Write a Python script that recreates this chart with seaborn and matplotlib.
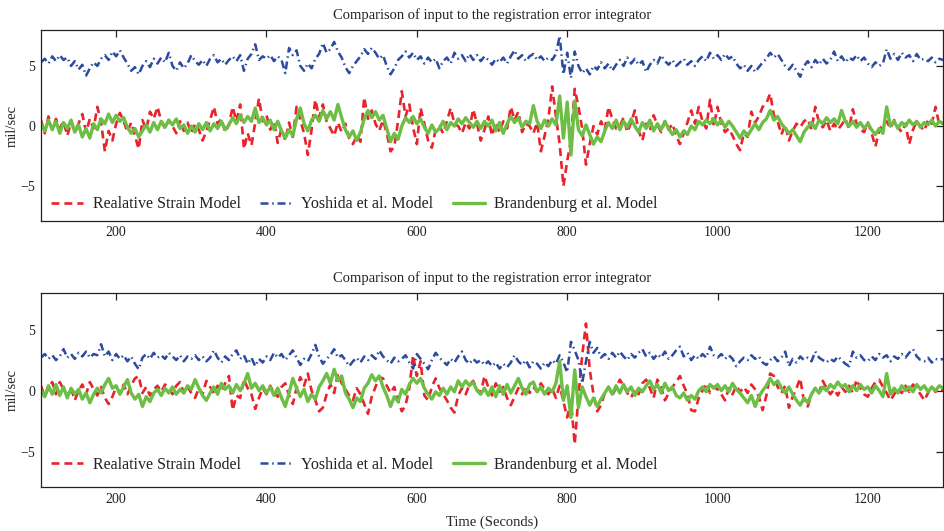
import numpy as np
import pandas as pd
import matplotlib
matplotlib.use("Agg")
import matplotlib.pyplot as plt
import seaborn as sns

# ---------------- data (5 s spacing) ----------------
time_s = list(range(100, 1305, 5))

top_strain = [
    0.5, -0.6, 0.8, -0.3, 0.6, -0.2, 0.4, -0.8, 0.3, -0.4, 0.2, 1.0, -0.5, 0.6, -0.2, 1.6, 0.3, -2.1, -0.4, -1.2,
    0.2, 1.1, 0.4, -0.5, 0.3, -0.8, -1.9, 0.5, -0.3, 1.2, 0.6, 1.6, 0.4, -0.2, 0.5, 0.0, -0.6, 0.4, -0.4, 0.3,
    -0.6, 0.2, -0.3, -1.2, -0.4, 0.5, 1.6, 0.2, 0.6, -0.5, 0.1, 1.6, 0.4, 1.8, -1.9, -0.6, -1.6, 0.3, 2.3, 0.4,
    0.9, -0.3, 0.4, -1.4, -0.2, -1.2, 0.3, -0.9, 1.6, 0.5, -0.6, -2.4, -0.3, 2.2, 0.7, 1.8, 0.4, -0.2, -0.8, 0.3,
    -0.5, 0.2, -1.0, -1.5, -0.8, -1.3, 2.4, 0.6, 1.3, 0.2, -0.4, 0.5, -0.6, -2.1, -1.7, 0.4, 2.9, 0.8, 1.8, -0.1,
    -1.5, 1.5, 0.2, -1.2, -1.8, -0.3, 0.0, -0.6, 0.4, 1.5, 0.2, 0.0, -0.6, 0.3, -0.2, 1.4, 0.2, -1.2, -0.3, 0.8,
    -0.8, 0.3, -0.5, 0.4, -0.2, 1.6, 0.5, 1.2, -0.5, 0.2, 0.0, -0.6, 0.3, -2.1, -0.8, 0.6, 3.3, 0.8, -1.5, -5.0,
    -2.9, -1.2, 3.1, 1.6, -0.2, -3.2, -1.5, 0.0, -0.7, 0.4, -0.3, 1.6, 0.6, -0.2, 0.0, 0.7, -0.5, 0.3, 1.3, -0.4,
    -1.2, 0.2, -0.4, 0.9, 0.1, -0.5, 0.4, -0.3, 0.2, -0.8, -1.5, -0.6, 0.3, 1.3, 0.2, 1.6, 0.4, -0.2, 2.2, 0.0,
    1.6, 0.2, -0.5, -0.2, -0.8, -1.5, -2.0, -0.6, -0.9, 1.2, 0.3, 0.8, 1.6, 1.9, 2.7, 0.9, 0.4, -0.7, 0.1, -1.2,
    -0.4, 0.2, -0.1, 0.4, 0.6, -0.3, 1.6, 0.3, -0.1, 0.5, -0.4, 0.2, -0.3, 0.1, 0.6, -0.2, 1.4, 0.2, -0.3, -0.5,
    0.3, -0.6, -1.7, -0.4, 0.2, 0.4, -0.2, 0.5, -0.1, -0.5, 0.2, -1.5, -0.3, 0.4, 0.0, -0.4, 0.5, 0.2, 1.6, 0.1,
    0.3,
]
top_yoshida = [
    5.3, 5.6, 5.2, 5.8, 5.4, 5.9, 5.5, 5.7, 5.0, 5.4, 4.7, 5.1, 4.2, 4.8, 5.3, 5.0, 5.6, 5.9, 5.5, 6.2,
    5.8, 6.3, 5.7, 5.2, 4.6, 4.9, 4.3, 5.0, 5.4, 4.9, 5.6, 5.2, 5.7, 5.3, 6.1, 5.0, 4.6, 5.3, 4.8, 5.2,
    5.9, 5.4, 5.1, 5.5, 5.0, 5.6, 5.9, 5.3, 5.6, 5.1, 5.5, 5.8, 5.4, 5.9, 4.6, 5.6, 6.0, 6.8, 5.5, 5.8,
    5.6, 5.9, 5.4, 5.8, 5.5, 4.4, 6.5, 5.9, 6.3, 5.0, 4.6, 5.2, 4.8, 5.6, 6.0, 6.9, 6.1, 6.4, 7.0, 6.2,
    5.7, 4.9, 4.4, 5.0, 5.4, 5.8, 6.4, 6.0, 6.5, 6.1, 5.6, 5.9, 5.0, 4.3, 4.8, 5.5, 5.8, 6.2, 5.7, 6.1,
    5.5, 5.8, 5.2, 5.7, 5.3, 5.6, 4.8, 5.4, 5.7, 5.2, 6.1, 5.6, 5.9, 5.4, 6.0, 5.5, 5.9, 5.4, 5.8, 5.5,
    5.1, 5.6, 5.3, 5.7, 5.2, 5.8, 6.3, 5.6, 5.9, 5.4, 5.8, 6.0, 5.5, 5.8, 5.4, 5.7, 5.5, 6.0, 7.5, 4.3,
    6.1, 4.0, 6.2, 5.0, 4.4, 4.8, 4.3, 5.0, 4.7, 5.3, 4.8, 5.2, 4.6, 5.1, 5.5, 5.0, 5.7, 5.2, 5.6, 5.1,
    5.4, 4.5, 5.1, 5.5, 5.2, 5.9, 5.4, 5.1, 5.5, 5.0, 5.3, 5.6, 5.1, 5.4, 5.0, 5.5, 5.8, 5.4, 6.1, 5.6,
    5.9, 5.5, 6.0, 5.6, 5.8, 5.2, 4.8, 5.1, 4.6, 5.0, 4.5, 4.9, 5.3, 5.6, 6.1, 5.7, 6.0, 5.5, 5.0, 4.7,
    5.1, 4.6, 4.1, 5.0, 5.4, 4.9, 5.5, 5.1, 5.6, 5.2, 5.5, 6.2, 5.4, 5.8, 5.3, 5.7, 5.5, 5.9, 5.4, 5.7,
    5.2, 4.9, 5.3, 5.0, 5.2, 6.4, 5.6, 6.0, 5.5, 6.1, 5.7, 5.9, 5.4, 6.0, 5.5, 5.6, 5.4, 5.7, 5.3, 5.6,
    5.5,
]
top_brandenburg = [
    0.2, -0.4, 0.5, -0.3, 0.4, -0.6, 0.3, -0.2, 0.5, -0.5, 0.1, -0.9, -0.2, -1.0, 0.2, -0.3, 0.6, 0.2, 1.0, 0.3,
    0.9, 0.4, 0.7, -0.1, -0.6, -0.2, -0.9, -0.4, 0.1, -0.5, 0.3, -0.3, 0.4, -0.1, 0.5, 0.1, 0.6, -0.2, 0.1, -0.6,
    0.0, -0.5, 0.2, -0.3, 0.3, -0.4, 0.2, -0.2, 0.4, -0.3, 0.1, 0.7, 0.2, 0.9, 0.3, 0.8, 0.4, 1.5, 0.3, 0.7,
    0.1, 0.5, -0.3, 0.4, -0.4, -1.0, -0.3, -0.8, 0.6, 1.5, 0.2, -0.4, 0.5, 0.9, 0.4, 1.3, 0.6, 1.2, 0.5, 1.8,
    0.7, -0.3, -0.9, -0.4, -1.2, -0.5, 0.6, 1.3, 0.7, 1.2, 0.5, 0.9, -0.2, -1.3, -0.6, -1.1, 0.0, 0.7, 0.3, 0.8,
    0.2, 0.6, -0.1, -0.6, 0.1, -0.5, -0.2, 0.4, -0.3, 0.3, 0.0, 0.6, 0.2, 0.7, 0.3, -0.1, 0.4, -0.2, 0.4, 0.0,
    0.5, -0.4, 0.3, -0.6, 0.2, 0.8, 0.3, 0.7, -0.1, 0.4, 0.2, 1.7, 0.4, -0.2, 0.5, 0.0, 0.6, 0.1, 2.5, -1.0,
    2.0, -2.4, 2.1, -0.3, -0.8, 0.1, -0.7, -1.5, -0.9, -1.3, -0.4, 0.3, -0.2, 0.5, -0.3, 0.4, -0.1, 0.6, 0.0, -0.5,
    0.3, -0.2, 0.5, -0.4, 0.2, -0.3, 0.4, -0.2, -0.7, -0.3, -0.9, -0.4, -0.7, 0.0, -0.3, 0.4, 0.1, 0.5, 0.2, 0.6,
    0.1, 0.5, -0.1, 0.4, 0.0, -0.5, -1.0, -0.4, -0.8, -0.3, 0.2, -0.3, 0.3, 0.6, 1.3, 0.5, 0.8, 0.2, -0.2, -0.6,
    -0.3, -0.8, -1.3, -0.5, -0.1, 0.3, -0.2, 0.5, 0.2, 0.7, 0.3, 0.6, 0.2, 1.3, 0.4, 0.0, 0.4, -0.1, 0.3, -0.2,
    0.2, -0.3, -0.7, -0.2, -0.6, 1.6, 0.0, 0.4, -0.2, 0.3, 0.0, 0.5, 0.1, 0.4, -0.1, 0.3, 0.1, 0.5, 0.0, 0.4,
    0.2,
]

bottom_strain = [
    0.4, -0.5, 0.2, 0.7, -0.3, 0.7, 0.1, -0.4, 0.2, -0.8, 0.0, 0.5, -0.3, 0.7, 0.1, -0.4, 0.3, -0.6, -1.1, -0.5,
    0.3, -0.2, 0.5, -0.3, 0.4, 1.0, 1.2, -0.2, 0.3, -0.4, 0.1, 0.4, -0.1, 0.5, 0.2, -0.3, 0.4, 0.7, -0.2, 0.3,
    -0.2, -0.6, 0.2, -0.3, 0.8, 0.3, -0.2, 0.4, -0.1, 0.6, 1.2, -1.6, -0.4, -0.6, 0.9, 0.2, -0.3, -1.5, -0.6, 0.2,
    -0.3, 0.4, -0.2, -0.5, 0.3, 0.6, -0.4, -1.1, 0.2, 1.1, 0.4, 1.4, 0.0, -0.8, -1.7, -1.4, -0.3, 0.5, -0.2, 1.4,
    0.6, 0.1, -0.4, -0.8, 0.2, -0.3, -1.1, -1.9, -0.5, 0.3, 1.1, 1.0, 0.4, -0.2, 0.3, -0.8, -1.7, -1.2, 0.2, 2.9,
    1.2, 2.4, -0.4, -0.8, 0.3, 1.0, 0.2, -0.3, -0.8, -1.4, -1.8, -0.4, 0.2, -0.3, 0.5, 0.8, 0.1, -0.2, 1.2, 0.3,
    -0.4, 0.6, -0.1, 0.3, -0.6, -1.2, -0.5, 0.2, -0.3, 0.4, -0.2, 0.3, -0.1, 0.6, 0.1, -0.3, 0.2, -0.6, 0.4, -0.9,
    -2.2, -0.8, -4.4, -0.5, 2.9, 5.5, 1.7, -0.3, -1.7, -1.2, -0.2, 0.3, -0.4, 0.2, 0.9, 0.4, -0.2, -0.6, 0.1, -0.3,
    0.6, 0.9, 0.2, -0.6, 0.9, 0.3, -0.8, -0.2, 0.3, 0.7, 1.2, 0.4, -0.3, -1.6, -1.7, -0.6, 0.0, 0.6, -0.2, 0.3,
    0.1, -0.3, -0.8, 0.2, -0.3, 0.4, -0.1, 0.3, -0.2, 0.5, 0.1, -0.5, -1.6, -0.4, 1.4, 1.2, 0.3, -0.2, 0.4, -1.4,
    -0.5, 0.2, 1.0, -0.9, -1.3, -0.3, 0.2, -0.2, 0.8, 0.2, -0.3, 0.1, -0.4, 0.3, -0.1, 0.4, -0.2, 0.9, 0.2, -0.3,
    -0.5, 0.2, 0.7, 0.9, 0.3, -0.2, -0.8, -0.3, 0.2, -0.2, 0.4, -0.1, 0.5, 0.1, -0.3, -0.8, -0.2, 0.3, -0.1, 0.2,
    0.0,
]
bottom_yoshida = [
    2.7, 3.0, 2.6, 2.9, 2.5, 2.8, 3.4, 2.7, 3.0, 2.6, 3.1, 2.8, 3.2, 2.7, 3.0, 2.9, 3.8, 2.8, 3.2, 2.5,
    3.0, 2.6, 2.9, 2.4, 2.8, 2.2, 1.75, 2.7, 3.0, 2.6, 3.1, 2.7, 2.9, 2.6, 3.1, 2.8, 2.5, 2.9, 2.4, 2.8,
    2.6, 2.9, 2.5, 2.8, 2.4, 2.7, 3.3, 2.7, 2.3, 2.8, 2.5, 3.0, 3.3, 2.6, 2.9, 2.2, 2.7, 2.0, 2.6, 2.3,
    2.8, 2.5, 3.1, 2.7, 3.0, 2.5, 2.9, 3.3, 2.7, 2.1, 2.6, 2.4, 3.0, 3.75, 2.8, 2.2, 2.6, 2.9, 3.4, 2.7,
    2.9, 2.5, 2.0, 2.4, 2.7, 2.3, 2.8, 2.5, 2.9, 2.6, 3.3, 2.8, 2.5, 2.2, 2.7, 2.4, 2.6, 2.9, 2.3, 1.8,
    3.0, 2.6, 2.2, 1.75, 2.5, 3.1, 2.7, 2.4, 2.1, 2.6, 2.3, 2.8, 3.2, 2.5, 2.2, 2.6, 2.3, 2.5, 2.1, 2.4,
    2.0, 2.3, 1.8, 2.2, 1.9, 2.3, 2.9, 2.4, 2.1, 2.5, 1.9, 2.4, 2.2, 1.8, 2.3, 2.0, 2.5, 2.2, 2.9, 2.3,
    1.5, 4.0, 3.3, 2.5, 0.6, 2.4, 4.0, 3.1, 3.5, 2.7, 3.0, 2.6, 3.1, 2.7, 3.2, 2.8, 2.5, 3.0, 2.7, 3.1,
    3.4, 2.8, 3.1, 2.6, 3.0, 2.7, 3.2, 2.6, 2.9, 3.3, 3.6, 2.8, 3.1, 2.5, 2.9, 2.6, 3.0, 2.7, 3.6, 2.9,
    2.7, 3.0, 2.6, 2.9, 2.6, 2.0, 2.4, 2.7, 2.5, 2.9, 2.6, 2.8, 2.3, 2.1, 2.5, 2.8, 2.4, 2.7, 3.2, 2.0,
    2.6, 2.3, 2.8, 2.5, 2.7, 2.4, 3.2, 2.7, 2.5, 2.3, 2.6, 2.4, 2.8, 2.5, 2.2, 2.0, 3.2, 2.7, 2.9, 2.5,
    2.4, 2.8, 2.5, 3.0, 2.7, 2.9, 2.4, 2.8, 2.6, 3.0, 2.7, 3.1, 3.4, 2.8, 2.5, 2.4, 2.7, 2.3, 2.6, 2.5,
    2.6,
]
bottom_brandenburg = [
    0.0, -0.5, 0.4, -0.3, 0.5, -0.4, 0.3, -0.6, 0.2, -0.3, 0.1, -0.7, -0.2, -1.0, -0.3, 0.2, -0.2, 0.5, 1.0, 0.2,
    0.4, -0.3, 0.3, 0.9, -0.2, -0.7, -0.3, -1.3, -0.5, -0.9, -0.2, 0.1, -0.4, 0.2, -0.2, 0.3, -0.3, 0.1, -0.2, 0.4,
    0.1, 0.9, 0.2, -0.4, -0.8, -0.2, 0.3, -0.3, 0.6, 0.1, 0.4, -0.2, 0.5, 0.0, 0.6, 1.4, 0.2, 0.6, 0.0, 0.4,
    -0.2, 0.3, -0.4, 0.2, -0.6, -1.3, -0.2, 1.0, 0.2, -0.5, 0.1, -0.9, -0.3, -0.7, 0.3, 0.8, 1.4, 0.6, 1.75, 0.8,
    1.2, -0.2, -0.7, -1.4, -0.6, -0.9, 0.2, 0.6, 1.3, 0.8, 1.2, 0.3, -0.4, -1.3, -0.5, -0.9, 0.1, -0.3, 0.5, 1.0,
    0.6, 1.0, 0.2, -0.3, -0.7, -0.1, -0.4, 0.2, -0.3, 0.3, -0.1, 0.8, 0.3, 0.8, 0.4, 0.7, 0.0, -0.3, 0.2, -0.4,
    0.3, -0.5, 0.4, -0.3, 0.5, -0.2, 0.4, 1.0, 0.2, -0.3, 0.5, 0.7, -0.1, 0.3, -0.3, 0.2, -0.1, 0.6, 2.4, -0.8,
    0.4, -2.2, 1.7, -1.4, 0.3, -0.5, -1.2, -0.6, -1.3, -0.7, -0.2, 0.3, -0.3, 0.4, -0.2, 0.5, -0.1, 0.3, -0.4, 0.2,
    -0.1, 0.4, 0.8, 0.1, 0.5, -0.2, 0.6, 0.0, 0.3, -0.4, -0.6, -0.2, -0.8, -0.4, -0.7, 0.0, 0.3, -0.1, 0.5, 0.2,
    0.5, 0.0, 0.4, -0.1, 0.6, 0.1, -0.2, -0.6, -1.0, -0.4, -1.3, -0.5, 0.0, 0.4, 1.0, 0.5, 0.8, 0.2, -0.2, 0.3,
    -0.3, -0.8, -1.2, -0.6, -1.0, -0.3, 0.2, -0.2, 0.3, 0.0, 0.5, 0.2, 0.7, 0.3, 0.5, -0.1, 0.4, 0.0, 0.5, 0.1,
    0.3, -0.2, 0.4, 0.0, -0.5, 1.4, -0.3, 0.2, -0.2, 0.4, 0.0, 0.3, -0.1, 0.5, 0.1, 0.4, -0.1, 0.3, 0.0, 0.4,
    0.2,
]

series_labels = ["Realative Strain Model", "Yoshida et al. Model", "Brandenburg et al. Model"]
x_ticks = [200, 400, 600, 800, 1000, 1200]
y_ticks = [-5, 0, 5]
title_text = "Comparison of input to the registration error integrator"
y_label = "mil/sec"
x_label = "Time (Seconds)"

# ---------------- style ----------------
sns.set_style("white")
plt.rcParams["font.family"] = ["Liberation Serif", "DejaVu Serif"]
plt.rcParams["axes.edgecolor"] = "#222222"
plt.rcParams["axes.linewidth"] = 0.9
plt.rcParams["text.color"] = "#222222"
plt.rcParams["xtick.color"] = "#222222"
plt.rcParams["ytick.color"] = "#222222"

colors = ["#E8232B", "#2B4BA0", "#6CBE45"]
styles = [
    dict(dashes=(3.0, 1.9), lw=1.9),
    dict(dashes=(3.2, 1.5, 0.6, 1.5), lw=1.8),
    dict(dashes=None, lw=2.4),
]

fig = plt.figure(figsize=(9.44, 5.31), dpi=100)
ax_top = fig.add_axes([0.0434, 0.5847, 0.9556, 0.3579])
ax_bot = fig.add_axes([0.0434, 0.0829, 0.9556, 0.3653])

panels = [
    (ax_top, [top_strain, top_yoshida, top_brandenburg], (-7.85, 7.95), -0.015),
    (ax_bot, [bottom_strain, bottom_yoshida, bottom_brandenburg], (-7.9, 8.0), 0.015),
]

for ax, data, ylim, leg_y in panels:
    for vals, lab, col, st in zip(data, series_labels, colors, styles):
        df = pd.DataFrame({"t": time_s, "v": vals})
        sns.lineplot(data=df, x="t", y="v", ax=ax, color=col, label=lab,
                     linewidth=st["lw"], estimator=None, sort=False)
        line = ax.get_lines()[-1]
        if st["dashes"] is not None:
            line.set_dashes(st["dashes"])
    ax.set_xlim(100, 1300)
    ax.set_ylim(*ylim)
    ax.set_xticks(x_ticks)
    ax.set_yticks(y_ticks)
    ax.tick_params(direction="in", length=5, width=0.9, top=True, right=True,
                   labelsize=10, pad=4)
    ax.set_title(title_text, fontsize=10.5, pad=8)
    ax.set_ylabel(y_label, fontsize=10.5)
    ax.yaxis.set_label_coords(-0.025, 0.5)
    ax.set_xlabel("")
    for sp in ax.spines.values():
        sp.set_visible(True)
    leg = ax.legend(loc="lower left", ncol=3, frameon=False, fontsize=11.5,
                    handlelength=2.0, handletextpad=0.6, columnspacing=1.2,
                    bbox_to_anchor=(-0.001, leg_y), borderaxespad=0.3)
    for h, st in zip(leg.get_lines(), styles):
        if st["dashes"] is not None:
            h.set_dashes(st["dashes"])

ax_bot.set_xlabel(x_label, fontsize=10.5, labelpad=7)

fig.savefig("out.png", dpi=100)
